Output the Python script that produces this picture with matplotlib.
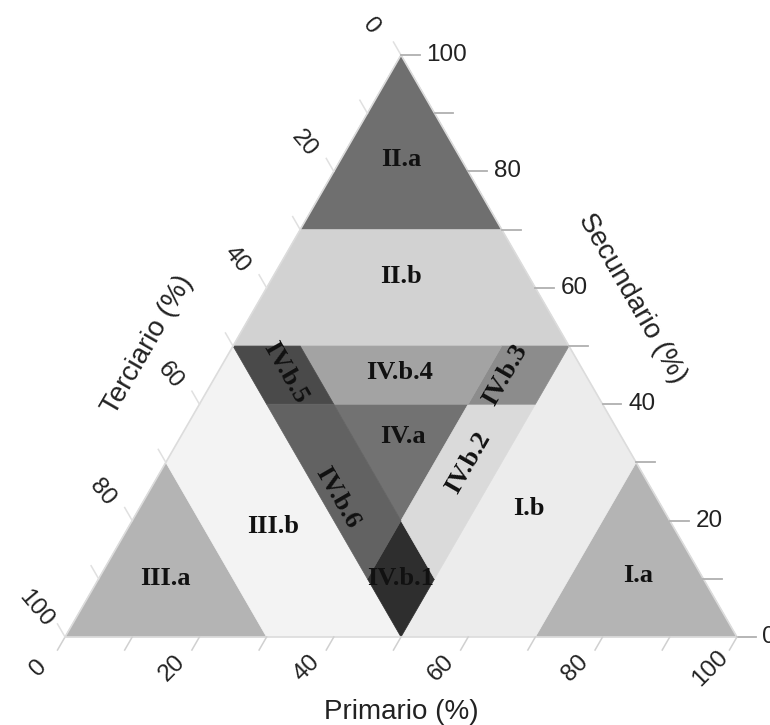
import matplotlib.pyplot as plt
import numpy as np
from matplotlib.patches import Polygon

# zones of the ternary diagram, corners as (primario %, secundario %); terciario = 100 - P - S
zone_names = ["II.a", "II.b", "III.a", "III.b", "I.a", "I.b",
              "IV.a", "IV.b.1", "IV.b.2", "IV.b.3", "IV.b.4", "IV.b.5", "IV.b.6"]
zone_corners = [
    [(0, 100), (0, 70), (30, 70)],
    [(0, 70), (30, 70), (50, 50), (0, 50)],
    [(0, 0), (30, 0), (0, 30)],
    [(30, 0), (50, 0), (0, 50), (0, 30)],
    [(100, 0), (70, 30), (70, 0)],
    [(50, 0), (70, 0), (70, 30), (50, 50)],
    [(20, 40), (40, 40), (40, 20)],
    [(50, 0), (50, 10), (40, 20), (40, 10)],
    [(40, 40), (50, 40), (50, 10), (40, 20)],
    [(40, 50), (50, 50), (50, 40), (40, 40)],
    [(10, 50), (40, 50), (40, 40), (20, 40)],
    [(0, 50), (10, 50), (20, 40), (10, 40)],
    [(10, 40), (20, 40), (40, 20), (40, 10)],
]
zone_grays = ["#6f6f6f", "#d2d2d2", "#b4b4b4", "#f3f3f3", "#b4b4b4", "#ececec",
              "#727272", "#2e2e2e", "#dadada", "#8c8c8c", "#a3a3a3", "#4a4a4a", "#626262"]
# label anchor (P, S) and rotation
label_pos = [(9, 82), (19, 62), (10, 10), (21.5, 19), (80, 10.5), (58, 22),
             (33, 34.5), (45, 10), (45, 30), (43, 45), (27, 45.5), (10, 45.5), (28.5, 24)]
label_rot = [0, 0, 0, 0, 0, 0, 0, 0, 60, 60, 0, -60, -60]

tick_vals = np.arange(0, 101, 10)
label_vals = [0, 20, 40, 60, 80, 100]

h = np.sqrt(3) / 2


def tern(p, s):
    return p / 100 + s / 200, s / 100 * h


fig = plt.figure(figsize=(7.7, 7.25), dpi=100)
ax = fig.add_axes([0, 0, 1, 1])
ax.set_xlim(-0.0967, 1.0491)
ax.set_ylim(-0.131, 0.948)
ax.set_aspect("equal")
ax.axis("off")

for corners, col in zip(zone_corners, zone_grays):
    pts = [tern(p, s) for p, s in corners]
    ax.add_patch(Polygon(pts, closed=True, facecolor=col, edgecolor=col, lw=0.5))

for name, (p, s), rot in zip(zone_names, label_pos, label_rot):
    x, y = tern(p, s)
    ax.text(x, y, name, ha="center", va="center", rotation=rot, fontsize=19,
            fontweight="bold", family="Liberation Serif", color="#111111")

# outline
ox, oy = zip(*[tern(0, 0), tern(100, 0), tern(0, 100), tern(0, 0)])
ax.plot(ox, oy, color="#dcdcdc", lw=1.2)

L = 0.028
for v in tick_vals:
    # secundario, right edge
    x, y = tern(100 - v, v)
    ax.plot([x, x + L], [y, y], color="#b0b0b0", lw=1.3)
    # primario, bottom edge
    x, y = tern(v, 0)
    ax.plot([x, x - 0.5 * L * 0.8], [y, y - h * L * 0.8], color="#d0d0d0", lw=1.1)
    # terciario, left edge
    x, y = tern(0, 100 - v)
    ax.plot([x, x - 0.5 * L * 0.8], [y, y + h * L * 0.8], color="#e0e0e0", lw=1.1)

tfont = dict(fontsize=17.5, family="Liberation Sans", color="#222222")
for v in label_vals:
    x, y = tern(100 - v, v)
    ax.text(x + 0.038, y, str(v), ha="left", va="center", **tfont)
    x, y = tern(v, 0)
    ax.text(x - 0.04, y - 0.046, str(v), ha="center", va="center", rotation=45, **tfont)
    x, y = tern(0, 100 - v)
    ax.text(x - 0.044, y + 0.042, str(v), ha="center", va="center", rotation=-50, **tfont)

title_font = dict(fontsize=20, family="Liberation Sans", color="#222222")
ax.text(0.5, -0.112, "Primario (%)", ha="center", va="center", **title_font)
ax.text(0.844, 0.504, "Secundario (%)", ha="center", va="center", rotation=-60, **title_font)
ax.text(0.1235, 0.4345, "Terciario (%)", ha="center", va="center", rotation=60, **title_font)

fig.savefig("out.png", dpi=100)
